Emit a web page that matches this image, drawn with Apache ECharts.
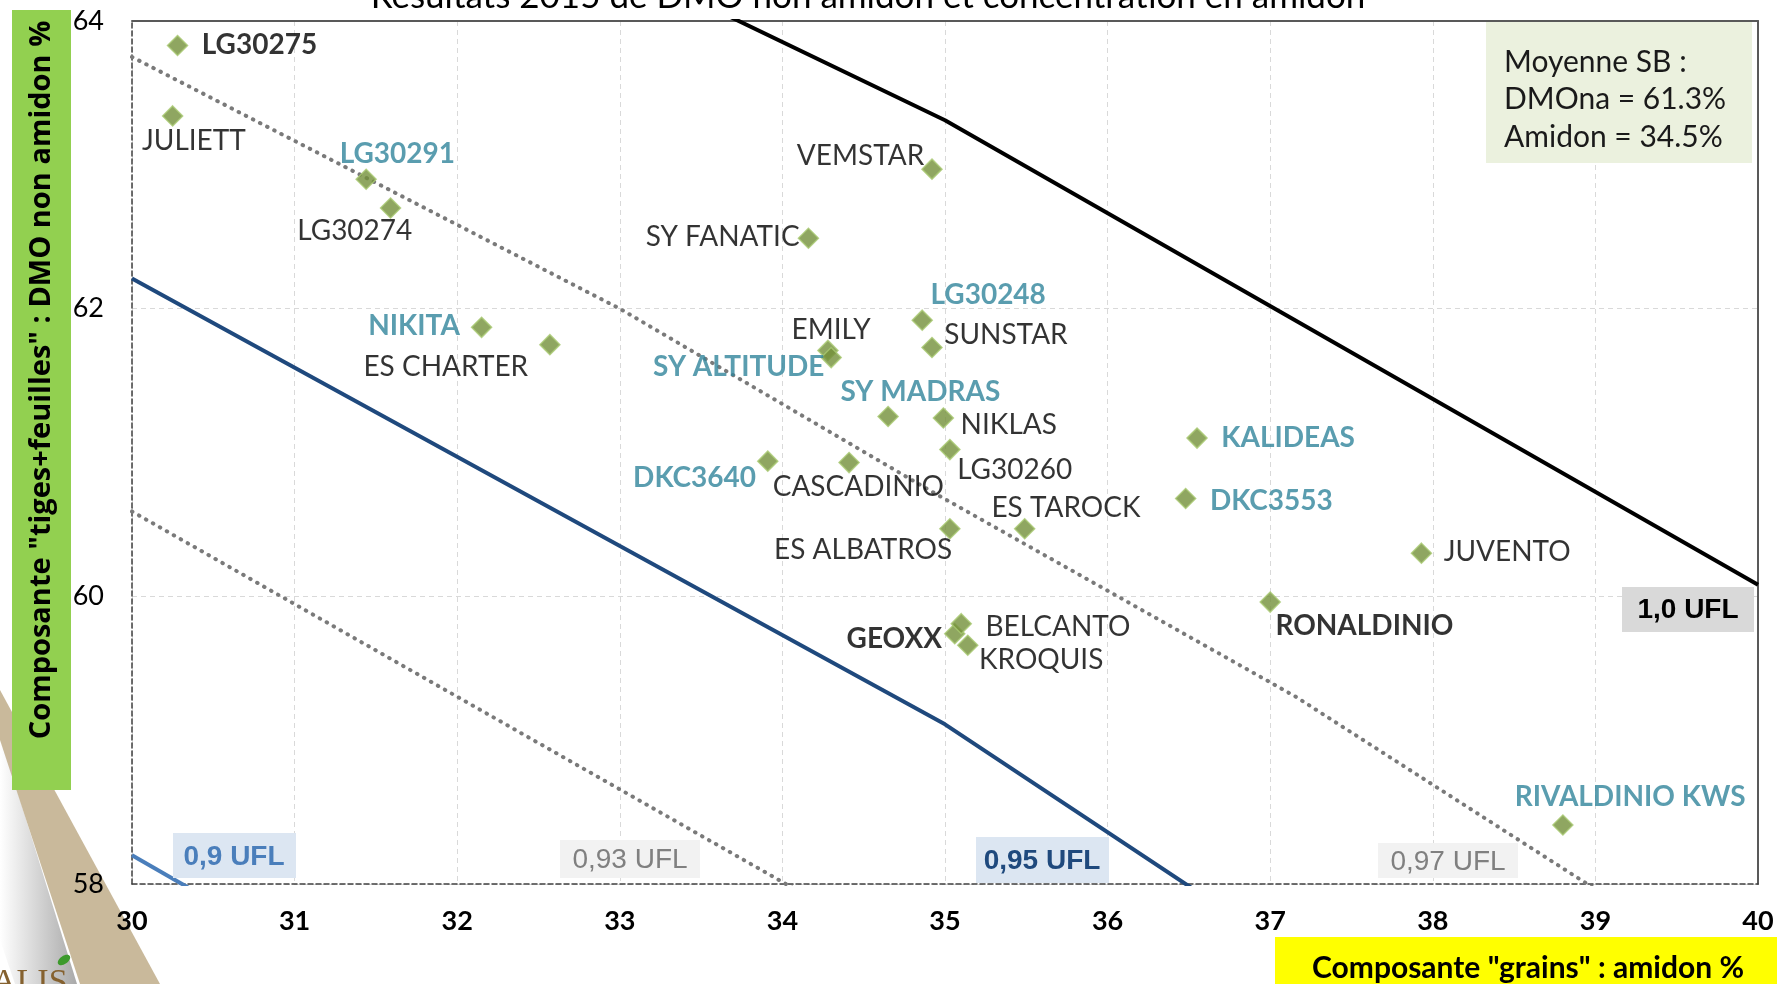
<!DOCTYPE html>
<html><head><meta charset="utf-8">
<script src="https://cdn.jsdelivr.net/npm/echarts@6/dist/echarts.min.js"></script>
<style>html,body{margin:0;padding:0;background:#fff;overflow:hidden}#chart{width:1777px;height:984px}</style>
</head><body><div id="chart"></div>
<script>
// ---------------- DATA ----------------
const varieties = ['LG30275','JULIETT','LG30291','LG30274','NIKITA','ES CHARTER','SY FANATIC','VEMSTAR','LG30248','SUNSTAR','EMILY','SY ALTITUDE','SY MADRAS','NIKLAS','LG30260','DKC3640','CASCADINIO','ES TAROCK','ES ALBATROS','KALIDEAS','DKC3553','JUVENTO','RONALDINIO','GEOXX','BELCANTO','KROQUIS','RIVALDINIO KWS'];
const amidon = [30.28,30.25,31.44,31.59,32.15,32.57,34.16,34.92,34.86,34.92,34.28,34.30,34.65,34.99,35.03,33.91,34.41,35.49,35.03,36.55,36.48,37.93,37.00,35.06,35.10,35.14,38.80];
const dmona  = [63.83,63.34,62.90,62.70,61.87,61.75,62.49,62.97,61.92,61.73,61.71,61.66,61.25,61.24,61.02,60.94,60.93,60.47,60.47,61.10,60.68,60.30,59.96,59.74,59.81,59.66,58.41];
const tealVarieties = ['LG30291','NIKITA','SY ALTITUDE','LG30248','SY MADRAS','DKC3640','KALIDEAS','DKC3553','RIVALDINIO KWS'];
const boldBlackVarieties = ['LG30275','GEOXX','RONALDINIO'];

const ufl090Amidon = [30, 32];
const ufl090Dmona  = [58.20, 56.90];
const ufl093Amidon = [30, 35];
const ufl093Dmona  = [60.59, 57.37];
const ufl095Amidon = [30, 35, 40];
const ufl095Dmona  = [62.21, 59.11, 55.36];
const ufl097Amidon = [30, 33, 34.9, 37.16, 38.95, 40];
const ufl097Dmona  = [63.75, 62.0, 60.74, 59.30, 58.0, 57.24];
const ufl100Amidon = [30, 35, 40];
const ufl100Dmona  = [66.03, 63.31, 60.08];

const xMin = 30, xMax = 40, xStep = 1;
const yMin = 58, yMax = 64, yStep = 2;

const titleText = 'Résultats 2015 de DMO non amidon et concentration en amidon';
const xTitle = 'Composante "grains" : amidon %';
const yTitle = 'Composante "tiges+feuilles" : DMO non amidon %';
const meanLines = ['Moyenne SB :', 'DMOna = 61.3%', 'Amidon = 34.5%'];

// ---------------- LABEL PLACEMENT (style only) ----------------
const labelPlacement = {
  'LG30275':['left',25,0], 'JULIETT':['center',22,26], 'LG30291':['center',32,-24], 'LG30274':['center',-35,24],
  'NIKITA':['right',-21,-1], 'ES CHARTER':['right',-21,23], 'SY FANATIC':['right',-8,0], 'VEMSTAR':['right',-7,-12],
  'LG30248':['left',9,-24], 'SUNSTAR':['left',13,-12], 'EMILY':['center',4,-20], 'SY ALTITUDE':['right',-6,10],
  'SY MADRAS':['center',33,-24], 'NIKLAS':['left',18,8], 'LG30260':['left',8,21], 'DKC3640':['right',-11,18],
  'CASCADINIO':['center',10,25], 'ES TAROCK':['center',42,-20], 'ES ALBATROS':['center',-86,22], 'KALIDEAS':['left',25,1],
  'DKC3553':['left',25,3], 'JUVENTO':['left',23,0], 'RONALDINIO':['left',6,25], 'GEOXX':['right',-12,6],
  'BELCANTO':['left',25,4], 'KROQUIS':['left',12,15], 'RIVALDINIO KWS':['center',68,-27]
};
const markerSize = 20;

function pairs(xs, ys){ return xs.map((x,i)=>[x, ys[i]]); }

const scatterData = varieties.map((name,i)=>{
  const p = labelPlacement[name];
  const teal = tealVarieties.includes(name);
  const bold = teal || boldBlackVarieties.includes(name);
  return {
    name: name,
    value: [amidon[i], dmona[i]],
    label: {
      show: true, formatter: name,
      position: [markerSize/2 + p[1], markerSize/2 + p[2]],
      align: p[0], verticalAlign: 'middle',
      color: teal ? '#31849b' : '#000000',
      fontWeight: bold ? 'bold' : 'normal',
      fontFamily: 'Lato', fontSize: 28
    }
  };
});

const dotted = {color:'#7a7a7a', width:4, type:[0.5,7.5], cap:'round'};

const chart = echarts.init(document.getElementById('chart'), null, {renderer:'canvas'});
const option = {
  animation: false,
  backgroundColor: '#ffffff',
  grid: {left:132, right:19, top:21, bottom:100, containLabel:false},
  xAxis: [
    {type:'value', min:xMin, max:xMax, interval:xStep, position:'bottom',
     axisLine:{show:true, onZero:false, lineStyle:{color:'#404040', width:1.5, type:[5,3]}},
     axisTick:{show:false},
     axisLabel:{fontFamily:'Lato', fontWeight:'bold', fontSize:27, color:'#000', margin:24},
     splitLine:{show:true, lineStyle:{color:'#d9d9d9', width:1, type:[5,4]}}},
    {type:'value', min:xMin, max:xMax, interval:xStep, position:'top',
     axisLine:{show:true, onZero:false, lineStyle:{color:'#595959', width:2}},
     axisTick:{show:false}, axisLabel:{show:false}, splitLine:{show:false}}
  ],
  yAxis: [
    {type:'value', min:yMin, max:yMax, interval:yStep, position:'left',
     axisLine:{show:true, onZero:false, lineStyle:{color:'#404040', width:1.5, type:[5,3]}},
     axisTick:{show:false},
     axisLabel:{fontFamily:'Lato', fontSize:27, color:'#000', margin:28},
     splitLine:{show:true, lineStyle:{color:'#d9d9d9', width:1, type:[5,4]}}},
    {type:'value', min:yMin, max:yMax, interval:yStep, position:'right',
     axisLine:{show:true, onZero:false, lineStyle:{color:'#595959', width:2}},
     axisTick:{show:false}, axisLabel:{show:false}, splitLine:{show:false}}
  ],
  series: [
    {type:'line', name:'0,9 UFL', data:pairs(ufl090Amidon, ufl090Dmona), symbol:'none', clip:true, z:2,
     lineStyle:{color:'#4a7ebb', width:4}},
    {type:'line', name:'0,93 UFL', data:pairs(ufl093Amidon, ufl093Dmona), symbol:'none', clip:true, z:2,
     lineStyle:dotted},
    {type:'line', name:'0,95 UFL', data:pairs(ufl095Amidon, ufl095Dmona), symbol:'none', clip:true, z:2,
     lineStyle:{color:'#1f497d', width:4}},
    {type:'line', name:'0,97 UFL', data:pairs(ufl097Amidon, ufl097Dmona), symbol:'none', clip:true, z:2,
     lineStyle:dotted},
    {type:'line', name:'1,0 UFL', data:pairs(ufl100Amidon, ufl100Dmona), symbol:'none', clip:true, z:2,
     lineStyle:{color:'#000000', width:4}},
    {type:'scatter', name:'Variétés', data:scatterData, symbol:'diamond', symbolSize:markerSize, z:5,
     itemStyle:{color:'#73903a', borderColor:'#a8c870', borderWidth:1.5}}
  ],
  graphic: [
    // title (cut at top)
    {type:'text', x:868, y:-3, z:10, style:{text:titleText, font:'35px Lato', fill:'#000', textAlign:'center', textVerticalAlign:'middle'}},
    // page curl decoration (behind axes)
    {type:'polygon', z:-5, shape:{points:[[0,735],[77,984],[15,984],[0,940]]},
     style:{fill:new echarts.graphic.LinearGradient(1,0,0,0,[{offset:0,color:'#a9a9a9'},{offset:1,color:'#ffffff'}])}},
    {type:'polygon', z:-5, shape:{points:[[0,690],[160,984],[80,984],[0,740]]}, style:{fill:'#c9b99b'}},
    {type:'text', z:-5, x:-8, y:966, style:{text:'ALIS', font:'34px "Liberation Serif"', fill:'#85612f', textVerticalAlign:'top'}},
    {type:'ellipse', z:-5, rotation:0.6, x:64, y:960, shape:{cx:0, cy:0, rx:7, ry:4}, style:{fill:'#3c9a2c'}},
    // y axis title box
    {type:'rect', z:3, shape:{x:12, y:10, width:59, height:780}, style:{fill:'#92d050'}},
    {type:'text', z:4, x:42, y:380, rotation:Math.PI/2, style:{text:yTitle, font:'bold 29px "Open Sans"', fill:'#000', textAlign:'center', textVerticalAlign:'middle'}},
    // x axis title box
    {type:'rect', z:3, shape:{x:1275, y:937, width:502, height:47}, style:{fill:'#ffff00'}},
    {type:'text', z:4, x:1528, y:968, style:{text:xTitle, font:'bold 30px Lato', fill:'#000', textAlign:'center', textVerticalAlign:'middle'}},
    // mean box
    {type:'rect', z:3, shape:{x:1486, y:22, width:266, height:141}, style:{fill:'#ebf1de'}},
    {type:'text', z:4, x:1504, y:62, style:{text:meanLines[0], font:'30px Lato', fill:'#1a1a1a', textVerticalAlign:'middle'}},
    {type:'text', z:4, x:1504, y:99, style:{text:meanLines[1], font:'30px Lato', fill:'#1a1a1a', textVerticalAlign:'middle'}},
    {type:'text', z:4, x:1504, y:137, style:{text:meanLines[2], font:'30px Lato', fill:'#1a1a1a', textVerticalAlign:'middle'}},
    // UFL labels
    {type:'rect', z:3, shape:{x:173, y:833, width:123, height:45}, style:{fill:'#dce6f2'}},
    {type:'text', z:4, x:234, y:857, style:{text:'0,9 UFL', font:'bold 28px "Liberation Sans"', fill:'#4a7ebb', textAlign:'center', textVerticalAlign:'middle'}},
    {type:'rect', z:3, shape:{x:560, y:840, width:140, height:38}, style:{fill:'#f2f2f2'}},
    {type:'text', z:4, x:630, y:860, style:{text:'0,93 UFL', font:'28px "Liberation Sans"', fill:'#808080', textAlign:'center', textVerticalAlign:'middle'}},
    {type:'rect', z:3, shape:{x:976, y:837, width:133, height:46}, style:{fill:'#dce6f2'}},
    {type:'text', z:4, x:1042, y:861, style:{text:'0,95 UFL', font:'bold 28px "Liberation Sans"', fill:'#1f497d', textAlign:'center', textVerticalAlign:'middle'}},
    {type:'rect', z:3, shape:{x:1378, y:843, width:140, height:35}, style:{fill:'#f2f2f2'}},
    {type:'text', z:4, x:1448, y:862, style:{text:'0,97 UFL', font:'28px "Liberation Sans"', fill:'#808080', textAlign:'center', textVerticalAlign:'middle'}},
    {type:'rect', z:3, shape:{x:1622, y:587, width:132, height:45}, style:{fill:'#d9d9d9'}},
    {type:'text', z:4, x:1688, y:610, style:{text:'1,0 UFL', font:'bold 28px "Liberation Sans"', fill:'#000', textAlign:'center', textVerticalAlign:'middle'}}
  ]
};
chart.setOption(option);
</script>
</body></html>
